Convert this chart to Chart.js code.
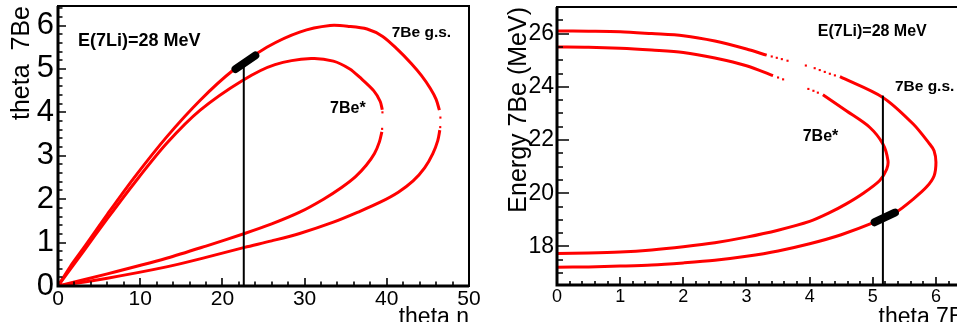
<!DOCTYPE html>
<html><head><meta charset="utf-8">
<script src="https://cdn.jsdelivr.net/npm/chart.js@4"></script>
<style>
html,body{margin:0;padding:0;background:#fff;overflow:hidden;width:957px;height:331px;}
#wrap{position:relative;width:957px;height:331px;overflow:hidden;background:#fff;}
#c1{position:absolute;left:0;top:0;width:480px;height:340px;}
#c2{position:absolute;left:480px;top:0;width:510px;height:340px;}
#cut{position:absolute;left:0;top:322px;width:957px;height:20px;background:#fff;}
</style></head><body>
<div id="wrap">
<canvas id="c1" width="480" height="340"></canvas>
<canvas id="c2" width="510" height="340"></canvas>
<div id="cut"></div>
</div>
<script>
// ---------- Left panel: theta 7Be vs theta n ----------
const gsThetaN   = [0,1.5,3.1,6.0,9.2,13.2,17.3,21.3,25.4,29.4,33.1,35.5,37.6,39.5,41.3,43.0,44.2,45.3,46.0,46.4,null,46.45,46.2,45.6,44.6,43.2,41.4,39.2,36.6,33.5,29.4,26.0,22.7,18.0,13.2,6.0,0];
const gsTheta7Be = [0,0.45,0.87,1.65,2.48,3.43,4.28,4.97,5.5,5.85,6.0,5.98,5.92,5.75,5.45,5.12,4.85,4.55,4.3,4.05,null,3.59,3.35,3.05,2.72,2.42,2.16,1.93,1.71,1.47,1.21,1.04,0.89,0.66,0.44,0.18,0];
const exThetaN   = [0,3.1,6.0,9.2,13.2,17.3,22.5,26.4,30.8,33.5,35.5,36.7,38.4,39.2,39.45,null,39.4,39.1,38.5,37.5,36.2,34.5,32.3,29.4,26.0,22.7,18.0,13.2,6.0,0];
const exTheta7Be = [0,0.8,1.55,2.35,3.28,4.05,4.74,5.1,5.24,5.18,5.0,4.81,4.5,4.25,4.06,null,3.55,3.32,3.05,2.78,2.52,2.27,2.0,1.7,1.43,1.21,0.92,0.64,0.28,0];
const gsDotN = [46.52,46.5], gsDot7Be = [3.88,3.66];
const exDotN = [39.47,39.43], exDot7Be = [4.0,3.62];
const cutN = [22.6,22.6], cut7Be = [0,5.08];
const blobN = [21.6,24.0], blob7Be = [5.0,5.31];
const leftXTicks = [0,10,20,30,40,50];
const leftYTicks = [0,1,2,3,4,5,6];

// ---------- Right panel: Energy 7Be vs theta 7Be ----------
const gsAng = [0,0.5,1.0,1.5,2.0,2.5,3.0,3.32,null,4.48,5.16,5.64,5.90,5.97,6.0,5.97,5.85,5.65,5.37,5.03,4.5,4.0,3.5,3.0,2.5,2.0,1.5,1.0,0.5,0];
const gsE   = [26.1,26.09,26.07,26.0,25.92,25.72,25.42,25.19,null,24.38,23.6,22.6,21.85,21.6,21.16,20.65,20.23,19.8,19.29,18.91,18.44,18.10,17.83,17.63,17.48,17.38,17.30,17.26,17.23,17.22];
const exAng = [0,0.5,1.0,1.5,2.0,2.5,3.0,3.42,null,4.21,4.58,4.95,5.16,5.24,5.22,5.11,4.85,4.58,4.3,4.0,3.5,3.0,2.5,2.0,1.5,1.0,0.5,0];
const exE   = [25.5,25.49,25.45,25.38,25.29,25.08,24.79,24.42,null,23.7,23.1,22.48,21.85,21.23,20.9,20.48,20.0,19.6,19.25,18.94,18.61,18.35,18.14,17.99,17.87,17.79,17.75,17.73];
const gsDotAng = [3.40,3.48,3.56,3.65,3.94,4.08,4.16,4.24,4.32,4.40];
const gsDotE   = [25.14,25.09,25.04,24.98,24.80,24.70,24.63,24.56,24.49,24.43];
const exDotAng = [3.50,3.58,3.98,4.06,4.13];
const exDotE   = [24.35,24.28,23.92,23.85,23.78];
const cutAng = [5.16,5.16], cutE = [16.55,23.67];
const blobAng = [5.03,5.35], blobE = [18.91,19.27];
const rightXTicks = [0,1,2,3,4,5,6];
const rightYTicks = [18,20,22,24,26];

const noteTexts = ['E(7Li)=28 MeV','7Be g.s.','7Be*'];

const pts = (xs, ys) => xs.map((v,i) => ({x: v, y: ys[i]}));
const RED = '#ff0000';

function curve(xs, ys){ return {data: pts(xs,ys), showLine:true, borderColor:RED, borderWidth:3, pointRadius:0, tension:0.3, spanGaps:false, order:3}; }
function dots(xs, ys){ return {data: pts(xs,ys), showLine:false, pointRadius:1.5, pointStyle:'rect', backgroundColor:RED, borderWidth:0, order:3}; }
function vline(xs, ys){ return {data: pts(xs,ys), showLine:true, borderColor:'#000', borderWidth:2, pointRadius:0, order:2}; }
function blob(xs, ys){ return {data: pts(xs,ys), showLine:true, borderColor:'#000', borderWidth:8, borderCapStyle:'round', pointRadius:0, order:1}; }

function makeFrame(cfg){
  return {
    id: 'frame',
    afterDatasetsDraw(chart){
      const {ctx, chartArea:a} = chart; const sx = chart.scales.x, sy = chart.scales.y;
      ctx.save();
      ctx.strokeStyle = '#000';
      ctx.lineWidth = 1.6;
      ctx.beginPath();
      for (let i = Math.ceil(sx.min/cfg.xMinor - 1e-9); i*cfg.xMinor <= sx.max + 1e-9; i++){
        const v = i*cfg.xMinor; const r = v/cfg.xMajor; const maj = Math.abs(r-Math.round(r))<1e-6;
        const p = Math.round(sx.getPixelForValue(v));
        ctx.moveTo(p, a.bottom); ctx.lineTo(p, a.bottom - (maj?cfg.xMajLen:cfg.xMinLen));
      }
      for (let i = Math.ceil(sy.min/cfg.yMinor - 1e-9); i*cfg.yMinor <= sy.max + 1e-9; i++){
        const v = i*cfg.yMinor; const r = v/cfg.yMajor; const maj = Math.abs(r-Math.round(r))<1e-6;
        const p = Math.round(sy.getPixelForValue(v));
        ctx.moveTo(a.left, p); ctx.lineTo(a.left + (maj?cfg.yMajLen:cfg.yMinLen), p);
      }
      ctx.stroke();
      ctx.lineWidth = 2;
      ctx.strokeRect(a.left, a.top, a.right-a.left, a.bottom-a.top);
      ctx.lineWidth = 3;
      ctx.beginPath();
      ctx.moveTo(a.left, a.top); ctx.lineTo(a.left, a.bottom); ctx.lineTo(a.right, a.bottom);
      ctx.stroke();
      ctx.restore();
    }
  };
}
function makeNotes(items){
  return {
    id: 'notes',
    afterDraw(chart){
      const {ctx} = chart; const sx = chart.scales.x, sy = chart.scales.y;
      ctx.save();
      ctx.fillStyle = '#000'; ctx.textBaseline = 'alphabetic'; ctx.textAlign = 'left';
      for (const n of items){
        ctx.font = n.font;
        ctx.fillText(n.text, sx.getPixelForValue(n.x), sy.getPixelForValue(n.y));
      }
      ctx.restore();
    }
  };
}
function axis(o){
  return {
    type:'linear', min:o.min, max:o.max,
    grid:{display:false, drawTicks:false, tickLength:0}, border:{display:false},
    afterBuildTicks: s => { s.ticks = o.ticks.map(v => ({value:v})); },
    afterFit: s => {
      if (o.height) s.height = o.height;
      if (o.width) s.width = o.width;
      s.paddingTop = 0; s.paddingBottom = 0; s.paddingLeft = 0; s.paddingRight = 0;
    },
    ticks:{padding:o.pad, color:'#000', font:{family:'Liberation Sans', size:o.tickSize}, maxRotation:0, minRotation:0, autoSkip:false, callback: v => String(v)},
    title:{display:true, text:o.title, align:'end', color:'#000', font:{family:'Liberation Sans', size:o.titleSize}, padding:o.titlePad}
  };
}
const FONT = 'Liberation Sans';

new Chart(document.getElementById('c1'), {
  type:'scatter',
  data:{datasets:[
    blob(blobN, blob7Be),
    vline(cutN, cut7Be),
    curve(gsThetaN, gsTheta7Be),
    curve(exThetaN, exTheta7Be),
    dots(gsDotN, gsDot7Be),
    dots(exDotN, exDot7Be)
  ]},
  options:{
    responsive:false, animation:false, devicePixelRatio:1,
    layout:{padding:{left:0,right:11,top:6,bottom:0}},
    plugins:{legend:{display:false}, tooltip:{enabled:false}},
    scales:{
      x: axis({min:0,max:50,ticks:leftXTicks,height:54,pad:1,tickSize:21,title:'theta n',titleSize:23,titlePad:{top:0,bottom:9}}),
      y: axis({min:0,max:6.45,ticks:leftYTicks,width:58,pad:4,tickSize:31,title:'theta  7Be',titleSize:25,titlePad:{top:7,bottom:0}})
    }
  },
  plugins:[
    makeFrame({xMinor:2,xMajor:10,yMinor:0.2,yMajor:1,xMajLen:8,xMinLen:4.5,yMajLen:8,yMinLen:4.5}),
    makeNotes([
      {text:noteTexts[0], x:2.43, y:5.54, font:'bold 18px '+FONT},
      {text:noteTexts[1], x:40.6, y:5.74, font:'bold 15.5px '+FONT},
      {text:noteTexts[2], x:33.1, y:3.98, font:'bold 16px '+FONT}
    ])
  ]
});

new Chart(document.getElementById('c2'), {
  type:'scatter',
  data:{datasets:[
    blob(blobAng, blobE),
    vline(cutAng, cutE),
    curve(gsAng, gsE),
    curve(exAng, exE),
    dots(gsDotAng, gsDotE),
    dots(exDotAng, exDotE)
  ]},
  options:{
    responsive:false, animation:false, devicePixelRatio:1,
    layout:{padding:{left:0,right:13,top:7,bottom:0}},
    plugins:{legend:{display:false}, tooltip:{enabled:false}},
    scales:{
      x: axis({min:0,max:6.65,ticks:rightXTicks,height:55,pad:1,tickSize:18,title:'theta 7Be',titleSize:23,titlePad:{top:0,bottom:9}}),
      y: axis({min:16.55,max:27.0,ticks:rightYTicks,width:77,pad:3,tickSize:23,title:'Energy 7Be (MeV)',titleSize:25,titlePad:{top:24,bottom:0}})
    }
  },
  plugins:[
    makeFrame({xMinor:0.2,xMajor:1,yMinor:0.5,yMajor:2,xMajLen:8,xMinLen:4,yMajLen:12,yMinLen:6}),
    makeNotes([
      {text:noteTexts[0], x:4.13, y:25.92, font:'bold 16px '+FONT},
      {text:noteTexts[1], x:5.35, y:23.85, font:'bold 15.5px '+FONT},
      {text:noteTexts[2], x:3.89, y:21.98, font:'bold 16px '+FONT}
    ])
  ]
});
</script>
</body></html>
